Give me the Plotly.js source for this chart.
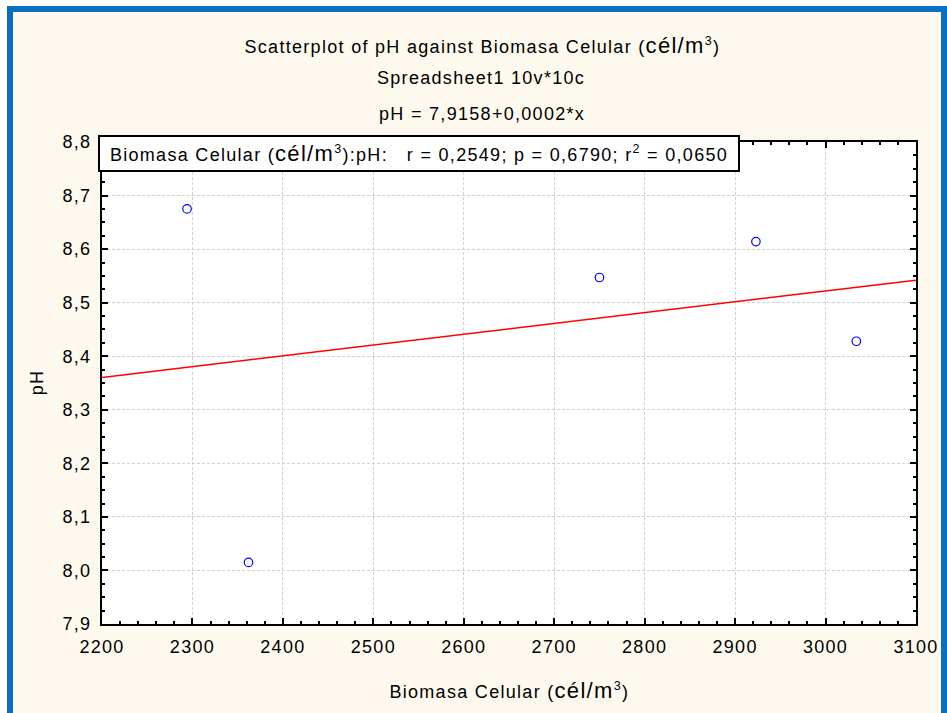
<!DOCTYPE html>
<html><head><meta charset="utf-8">
<script src="https://cdn.plot.ly/plotly-3.0.1.min.js"></script>
<style>html,body{margin:0;padding:0;background:#fff;}
#chart text{letter-spacing:1.3px;}</style>
</head><body><div id="chart" style="width:947px;height:713px;"></div>
<script>
// Data
const biomasa = [2294, 2362, 2750, 2923, 3034];
const pH = [8.675, 8.015, 8.547, 8.614, 8.428];
const fitRange = [2200, 3100];
const fitIntercept = 7.9158;
const fitSlope = 0.000202;
const xTickVals = [2200, 2300, 2400, 2500, 2600, 2700, 2800, 2900, 3000, 3100];
const yTickVals = [7.9, 8.0, 8.1, 8.2, 8.3, 8.4, 8.5, 8.6, 8.7, 8.8];
const yTickText = ['7,9', '8,0', '8,1', '8,2', '8,3', '8,4', '8,5', '8,6', '8,7', '8,8'];
const statR = '0,2549', statP = '0,6790', statR2 = '0,0650';
const titleLine1 = 'Scatterplot of pH against Biomasa Celular (<span style="font-size:22px">cél/m</span><sup>3</sup>)';
const titleLine2 = 'Spreadsheet1 10v*10c';
const titleLine3 = 'pH = 7,9158+0,0002*x';
const xTitle = 'Biomasa Celular (<span style="font-size:22px">cél/m</span><sup>3</sup>)';
const yTitle = 'pH';

const W = 947, H = 713;
const M = {l: 102, r: 31, t: 142, b: 89};
const PW = W - M.l - M.r, PH = H - M.t - M.b;
const px = x => (x - M.l) / PW;
const py = y => (H - M.b - y) / PH;

const FONT = '"Liberation Sans", Arial, sans-serif';
const FS = 18;
const fitY = fitRange.map(x => fitIntercept + fitSlope * x);

const traces = [
  {x: fitRange, y: fitY, mode: 'lines', line: {color: '#ff0000', width: 1.5}, hoverinfo: 'skip'},
  {x: biomasa, y: pH, mode: 'markers', marker: {symbol: 'circle-open', size: 8.5, color: '#0000ff', line: {width: 1.2, color: '#0000ff'}}}
];

const axisCommon = {
  ticks: 'inside', ticklen: 6, tickwidth: 1.5, tickcolor: '#000',
  showline: true, linecolor: '#000', linewidth: 2, mirror: 'ticks',
  showgrid: true, gridcolor: '#d0d0d0', griddash: '3px,2px', gridwidth: 1,
  zeroline: false, tickfont: {family: FONT, size: FS, color: '#000'}
};

const layout = {
  width: W, height: H, margin: M, showlegend: false,
  paper_bgcolor: '#fef9ee', plot_bgcolor: '#ffffff',
  separators: ',.',
  xaxis: Object.assign({}, axisCommon, {
    range: [2200, 3100], tickmode: 'array', tickvals: xTickVals, tickformat: 'd',
    ticklabelstandoff: 5,
    minor: {dtick: 20, ticks: 'inside', ticklen: 3, tickwidth: 1.5, tickcolor: '#000', showgrid: false}
  }),
  yaxis: Object.assign({}, axisCommon, {
    range: [7.9, 8.8], tickmode: 'array', tickvals: yTickVals, ticktext: yTickText,
    ticklabelstandoff: 5,
    minor: {dtick: 0.025, ticks: 'inside', ticklen: 3, tickwidth: 1.5, tickcolor: '#000', showgrid: false}
  }),
  shapes: [
    {type: 'rect', xref: 'paper', yref: 'paper', x0: px(0), x1: px(W), y0: py(0), y1: py(6), fillcolor: '#fff', line: {width: 0}, layer: 'below'},
    {type: 'rect', xref: 'paper', yref: 'paper', x0: px(0), x1: px(7), y0: py(0), y1: py(H), fillcolor: '#fff', line: {width: 0}, layer: 'below'},
    {type: 'rect', xref: 'paper', yref: 'paper', x0: px(10), x1: px(944), y0: py(9), y1: py(740), fillcolor: 'rgba(0,0,0,0)', line: {color: '#0a6fc2', width: 6}, layer: 'below'}
  ],
  annotations: [
    {text: titleLine1, xref: 'paper', yref: 'paper', x: px(482), y: py(45), xanchor: 'center', yanchor: 'middle', showarrow: false, font: {family: FONT, size: FS, color: '#000'}},
    {text: titleLine2, xref: 'paper', yref: 'paper', x: px(481), y: py(78), xanchor: 'center', yanchor: 'middle', showarrow: false, font: {family: FONT, size: FS, color: '#000'}},
    {text: titleLine3, xref: 'paper', yref: 'paper', x: px(482), y: py(114), xanchor: 'center', yanchor: 'middle', showarrow: false, font: {family: FONT, size: FS, color: '#000'}},
    {text: xTitle, xref: 'paper', yref: 'paper', x: px(509), y: py(690), xanchor: 'center', yanchor: 'middle', showarrow: false, font: {family: FONT, size: FS, color: '#000'}},
    {text: yTitle, xref: 'paper', yref: 'paper', x: px(37), y: py(383), xanchor: 'center', yanchor: 'middle', textangle: -90, showarrow: false, font: {family: FONT, size: FS, color: '#000'}},
    {text: 'Biomasa Celular (<span style="font-size:22px">cél/m</span><sup>3</sup>):pH:\u00a0\u00a0\u00a0r = ' + statR + '; p = ' + statP + '; r<sup>2</sup> = ' + statR2,
     xref: 'paper', yref: 'paper', x: px(418.5), y: py(153.5), xanchor: 'center', yanchor: 'middle',
     width: 636, height: 31, align: 'center', valign: 'middle',
     showarrow: false, bgcolor: '#ffffff', bordercolor: '#000', borderwidth: 2, borderpad: 1,
     font: {family: FONT, size: FS, color: '#000'}}
  ]
};

Plotly.newPlot('chart', traces, layout, {displayModeBar: false, responsive: false});
</script></body></html>
